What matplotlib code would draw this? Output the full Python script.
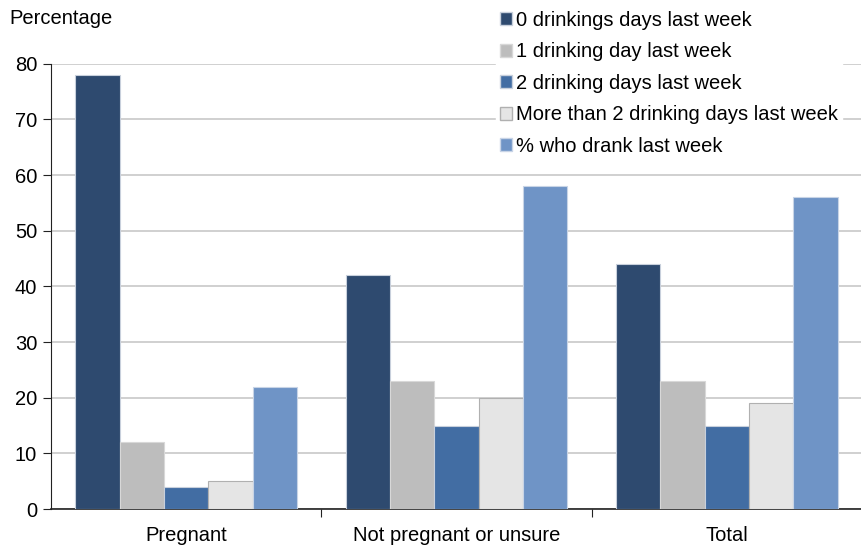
import numpy as np
import matplotlib.pyplot as plt
from matplotlib.patches import Patch

plt.rcParams['font.family'] = ['Liberation Sans', 'DejaVu Sans']

# Data
groups = ['Pregnant', 'Not pregnant or unsure', 'Total']
series = ['0 drinkings days last week', '1 drinking day last week',
          '2 drinking days last week', 'More than 2 drinking days last week',
          '% who drank last week']
zero_days = [78, 42, 44]
one_day = [12, 23, 23]
two_days = [4, 15, 15]
more_than_two = [5, 20, 19]
drank = [22, 58, 56]
values = [zero_days, one_day, two_days, more_than_two, drank]

colors = ['#2E4A6F', '#BDBDBD', '#426DA3', '#E5E5E5', '#6F94C6']
edges = ['#C8D0DC', '#D8D8D8', '#C8D0DC', '#B0B0B0', '#C8D4E6']

fs = 14.5

fig = plt.figure(figsize=(8.62, 5.51), dpi=100)
ax = fig.add_axes([0.0592, 0.0762, 0.9408, 0.808])

x = np.arange(len(groups))
width = 0.164
for i, (vals, c, e) in enumerate(zip(values, colors, edges)):
    ax.bar(x + (i - 2) * width, vals, width, color=c, edgecolor=e,
           linewidth=0.8, zorder=3)

ax.set_xlim(-0.5, 2.5)
ax.set_ylim(0, 80)
ax.set_yticks(range(0, 81, 10))
ax.yaxis.grid(True, color='#C8C8C8', linewidth=1.2, zorder=0)
ax.set_axisbelow(True)

ax.set_xticks([0.5, 1.5])
ax.set_xticklabels([])
ax.set_xticks(x, minor=True)
ax.set_xticklabels(groups, minor=True, fontsize=fs)
ax.tick_params(axis='x', which='minor', length=0, pad=12)
ax.tick_params(axis='x', which='major', length=6, direction='out', color='#222222')
ax.tick_params(axis='y', length=6, direction='out', labelsize=fs, color='#222222', pad=4)

for s in ['top', 'right']:
    ax.spines[s].set_visible(False)
ax.spines['left'].set_color('#222222')
ax.spines['bottom'].set_color('#222222')
ax.spines['bottom'].set_linewidth(1.2)

fig.text(0.011, 0.967, 'Percentage', fontsize=fs, ha='left', va='center')

handles = [Patch(facecolor=c, edgecolor=e) for c, e in zip(colors, edges)]
leg = ax.legend(handles, series, loc='upper left', bbox_to_anchor=(0.5485, 1.128),
                frameon=True, fontsize=fs, handlelength=0.6, handleheight=0.6,
                handletextpad=0.2, labelspacing=0.62, borderpad=0.2,
                borderaxespad=0)
leg.get_frame().set_edgecolor('white')
leg.get_frame().set_facecolor('white')
leg.get_frame().set_alpha(1)
leg.set_zorder(5)

fig.savefig('out.png', dpi=100)
